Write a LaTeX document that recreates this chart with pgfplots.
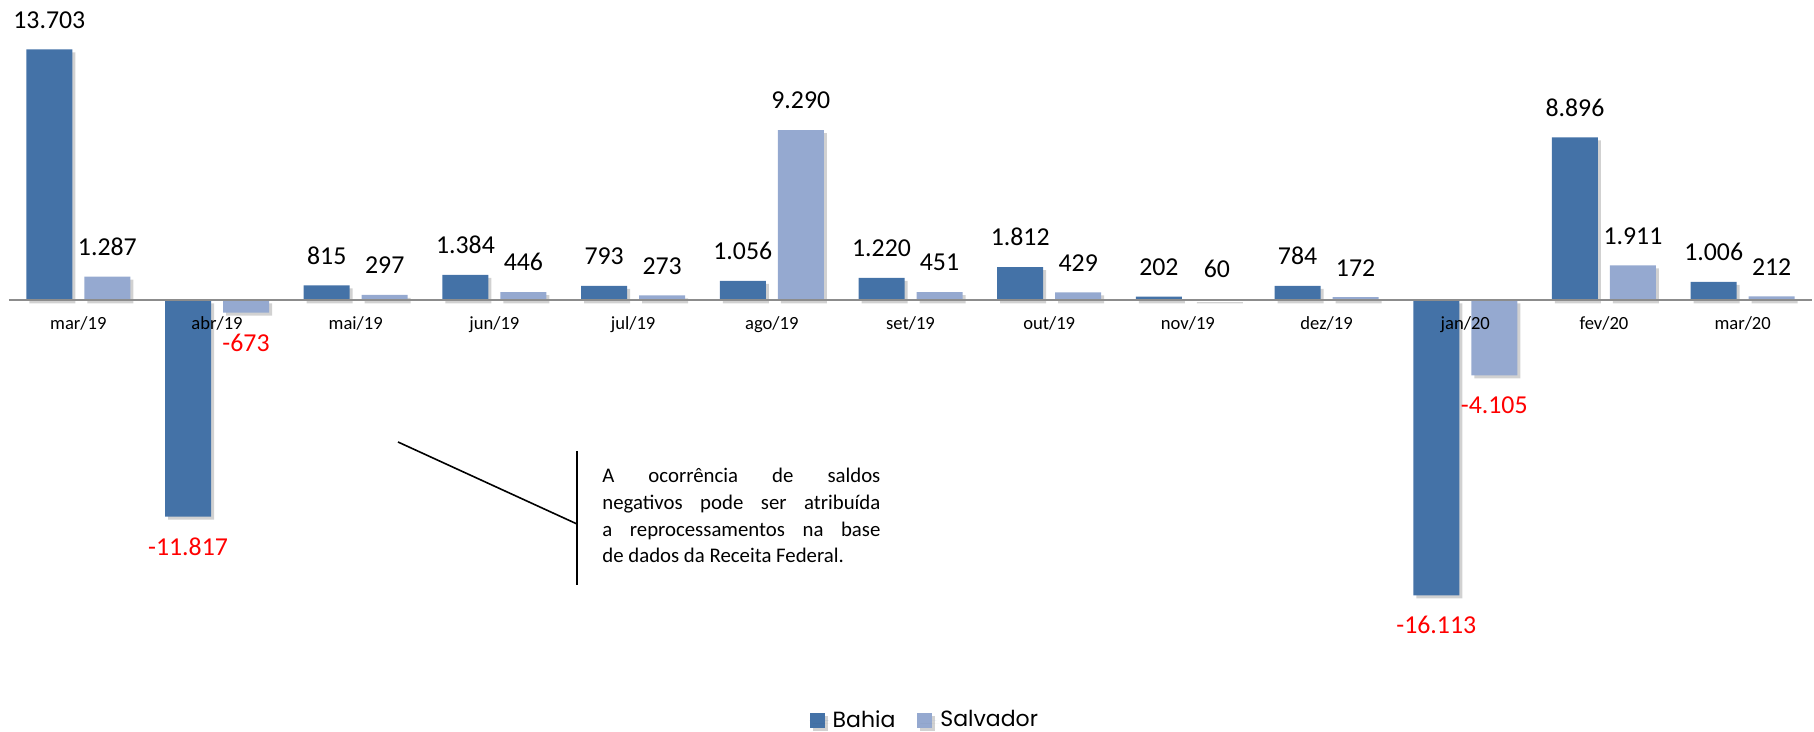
\documentclass[border=0pt]{standalone}
\usepackage{fontspec}
\setmainfont{Carlito}
\newfontfamily\legfont{Poppins}
\usepackage{pgfplots}
\usepackage{pgfplotstable}
\pgfplotsset{compat=1.18}
\usetikzlibrary{shadows}
\definecolor{cbahia}{RGB}{68,114,167}
\definecolor{csalv}{RGB}{149,169,208}
\definecolor{czero}{RGB}{140,140,140}

\pgfplotstableread{
x y
0 13703
2 815
3 1384
4 793
5 1056
6 1220
7 1812
8 202
9 784
11 8896
12 1006
}\bahiapos
\pgfplotstableread{
x y
1 -11817
10 -16113
}\bahianeg
\pgfplotstableread{
x y
0 1287
2 297
3 446
4 273
5 9290
6 451
7 429
8 60
9 172
11 1911
12 212
}\salvpos
\pgfplotstableread{
x y
1 -673
10 -4105
}\salvneg

\begin{document}
\begin{tikzpicture}
\useasboundingbox (0,0) rectangle (907pt,366pt);
\begin{axis}[
  at={(4.5pt,41pt)}, anchor=south west,
  scale only axis, width=901.5pt, height=325pt,
  xmin=-0.5, xmax=12.5, ymin=-19100, ymax=16400,
  axis x line*=middle, axis y line=none,
  axis on top,
  x axis line style={draw=czero, line width=1pt},
  xtick={0,...,12},
  xticklabels={mar/19,abr/19,mai/19,jun/19,jul/19,ago/19,set/19,out/19,nov/19,dez/19,jan/20,fev/20,mar/20},
  xticklabel style={font=\fontsize{9.3}{11}\selectfont, anchor=base, inner sep=0pt, yshift=-14.5pt},
  major tick length=0pt,
  ytick=\empty,
  clip=false,
  nodes near coords={\pgfmathprintnumber[assume math mode=true,fixed,precision=0,1000 sep={.}]{\pgfplotspointmeta}},
  nodes near coords align={vertical},
  every node near coord/.append style={font=\fontsize{12.9}{15}\selectfont, text=black, inner sep=0pt, outer sep=10.5pt},
  legend style={draw=none, fill=none, font=\legfont\fontsize{11}{13}\selectfont, legend columns=2,
    at={(0.5085,-0.108)}, anchor=center,
    /tikz/every even column/.append style={column sep=9pt}},
  legend image code/.code={\fill[#1] (0pt,-3.75pt) rectangle (7.5pt,3.75pt); \path (0pt,0pt) -- (9.5pt,0pt);},
  bahia/.style={ybar, bar width=23pt, bar shift=-14.5pt, fill=cbahia, draw=none,
    every node near coord/.append style={xshift=-14.5pt}},
  salv/.style={ybar, bar width=23pt, bar shift=14.5pt, fill=csalv, draw=none,
    every node near coord/.append style={xshift=14.5pt}},
  shad/.style={preaction={fill=black, opacity=0.18, transform canvas={xshift=1.5pt, yshift=-1.5pt}}},
]
\addplot[bahia, shad] table[x=x,y=y] {\bahiapos};
\addlegendentry{Bahia}
\addplot[salv, shad] table[x=x,y=y] {\salvpos};
\addlegendentry{Salvador}
\addplot[bahia, shad, forget plot, every node near coord/.append style={text=red}] table[x=x,y=y] {\bahianeg};
\addplot[salv, shad, forget plot, every node near coord/.append style={text=red}] table[x=x,y=y] {\salvneg};
\end{axis}
\draw[line width=0.8pt] (199pt,145pt) -- (288.5pt,104pt);
\draw[line width=0.8pt] (288.5pt,140.5pt) -- (288.5pt,73.5pt);
\node[anchor=base west, text width=139pt, align=justify, inner sep=0pt,
  font=\fontsize{10.4}{13.3}\selectfont]
  at (301pt,124.5pt) {\hyphenpenalty=10000 A ocorrência de saldos\linebreak negativos pode ser atribuída\linebreak a reprocessamentos na base\linebreak de dados da Receita Federal.};
\end{tikzpicture}
\end{document}
